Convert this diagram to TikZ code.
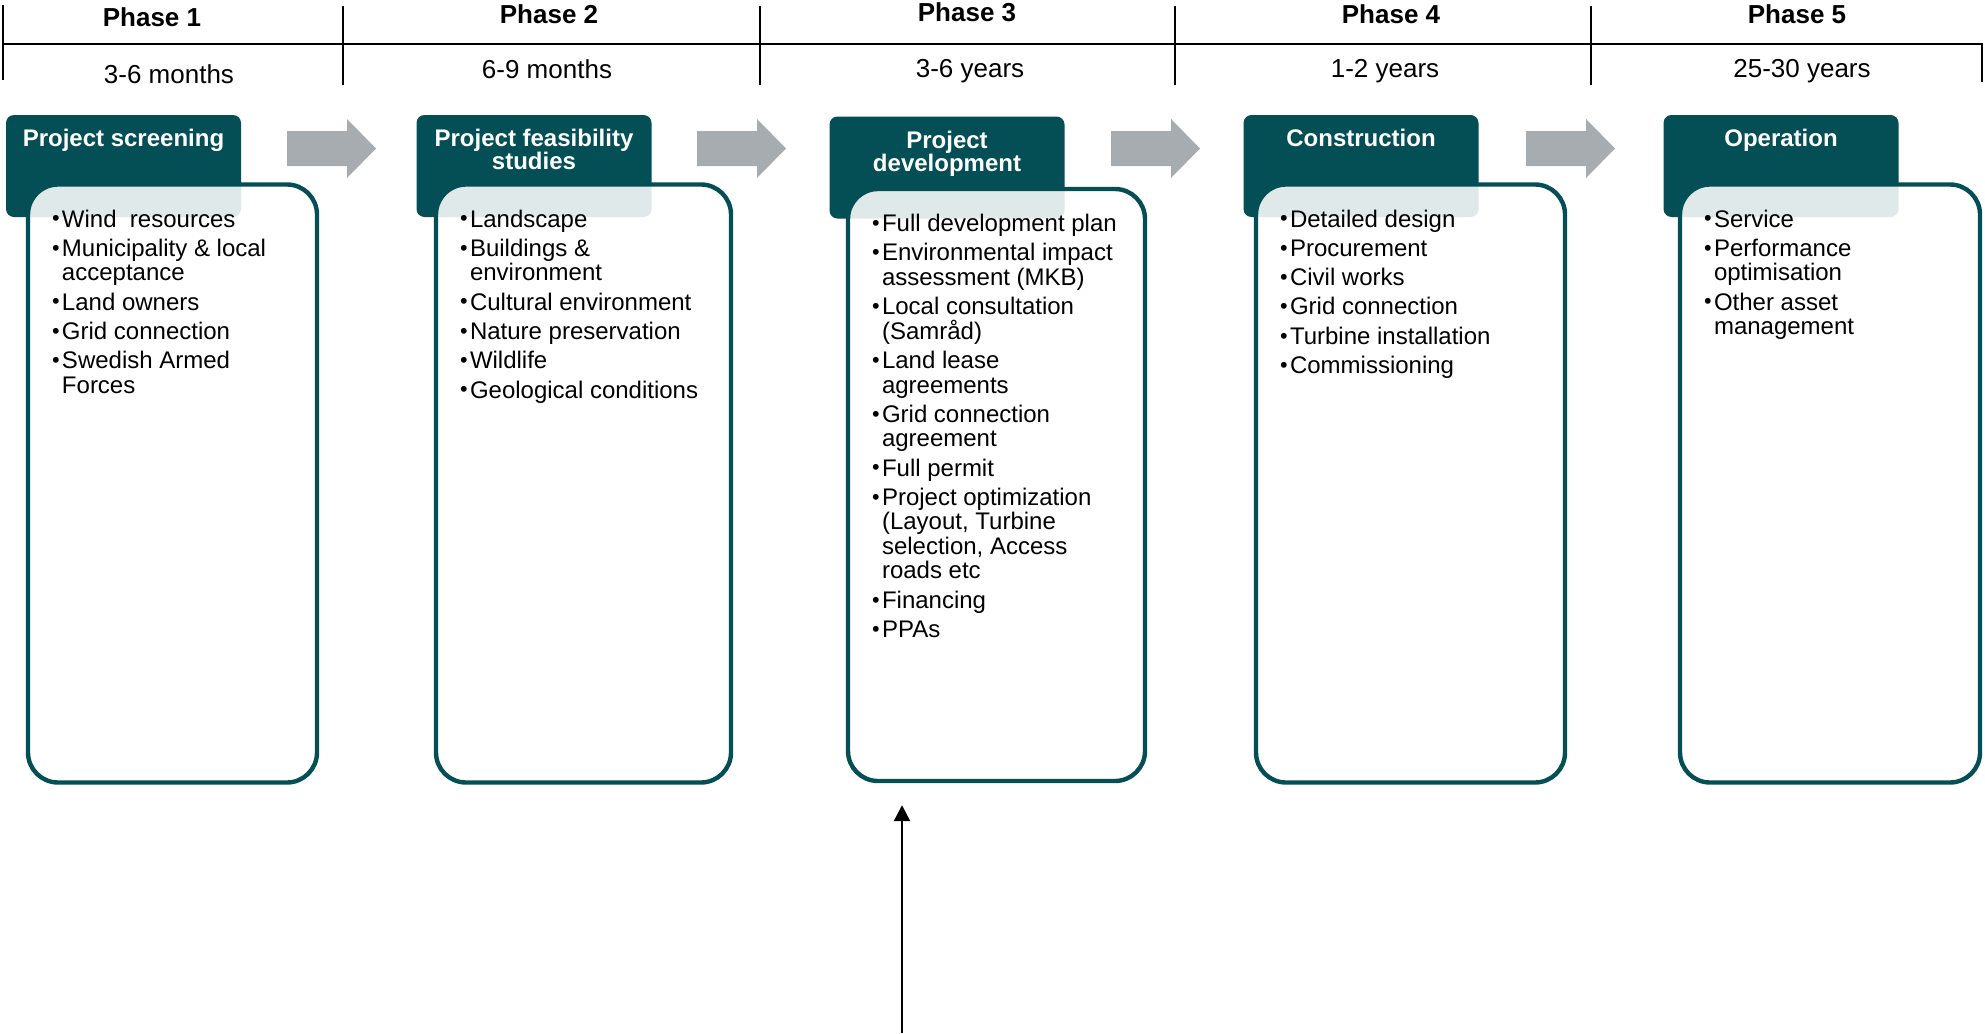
\documentclass[tikz,border=0pt]{standalone}
\usepackage{fontspec}
\setmainfont{Liberation Sans}
\usetikzlibrary{positioning,arrows.meta}

\definecolor{tealdark}{RGB}{4,78,86}
\definecolor{arrowgray}{RGB}{166,172,175}

\newlength\bulw
\setlength\bulw{5.6pt}
\newcommand{\bl}{\makebox[\bulw][r]{\raisebox{0.6pt}{\scalebox{0.9}{\textbullet}}\hspace{1.2pt}}}
\newcommand{\ind}{\hspace*{\bulw}}
\newcommand{\isep}{2.4pt}

\tikzset{every picture/.style={line width=1pt}}
\tikzset{
  phase/.style={anchor=base,inner sep=0pt,font=\fontsize{13}{15}\selectfont\bfseries},
  dur/.style={anchor=base,inner sep=0pt,font=\fontsize{13}{15}\selectfont},
  head/.style={fill=tealdark,rounded corners=4pt,minimum width=117.5pt,minimum height=51pt,inner sep=0pt,outer sep=0pt},
  headtxt/.style={text=white,align=center,inner sep=0pt,font=\fontsize{12}{11.75}\selectfont\bfseries},
  body/.style={draw=tealdark,line width=2.2pt,fill=white,fill opacity=0.88,rounded corners=15pt,minimum height=299pt,inner sep=0pt},
  bodytxt/.style={align=left,inner sep=0pt,font=\fontsize{12}{12.25}\selectfont},
}

\begin{document}
\begin{tikzpicture}[x=0.5pt,y=0.5pt,yscale=-1,xscale=1]
\useasboundingbox (0,0) rectangle (1985,1033);

%Straight Lines: phase rule
\draw (3,44) -- (1982,44);
\draw (3,5) -- (3,80);
\foreach \lx in {343,760,1175,1591}
  \draw (\lx,6) -- (\lx,85);
\draw (1982,43) -- (1982,82);

% Text Node
\node[phase] (p1) at (152,26) {Phase 1};
\node[phase] (p2) at (549,24) {Phase 2};
\node[phase] (p3) at (967,21.5) {Phase 3};
\node[phase] (p4) at (1391,23.5) {Phase 4};
\node[phase] (p5) at (1797,24) {Phase 5};
% Text Node
\node[dur] (d1) at (169,83) {3-6 months};
\node[dur] (d2) at (547,78) {6-9 months};
\node[dur] (d3) at (970,77) {3-6 years};
\node[dur] (d4) at (1385,77) {1-2 years};
\node[dur] (d5) at (1802,77) {25-30 years};

%Shape: Right Arrow
\foreach \ax in {287,697,1111,1526}
  \fill[arrowgray] (\ax,131) -- ++(60,0) -- ++(0,-12) -- ++(29,29.5) -- ++(-29,29.5) -- ++(0,-12) -- ++(-60,0) -- cycle;

%Shape: Rectangle (headers)
\node[head] (head1) at (123.5,166) {};
\node[head] (head2) at (534,166) {};
\node[head] (head3) at (947,167.5) {};
\node[head] (head4) at (1361,166) {};
\node[head] (head5) at (1781,166) {};

%Shape: Rectangle (bodies)
\node[body,minimum width=144.5pt] (body1) at (172.5,483.5) {};
\node[body,minimum width=147.5pt] (body2) at (583.5,483.5) {};
\node[body,minimum width=148.5pt,minimum height=296pt] (body3) at (996.5,485) {};
\node[body,minimum width=154.5pt] (body4) at (1410.5,483.5) {};
\node[body,minimum width=150pt] (body5) at (1830,483.5) {};

% Text Node
\node[headtxt,below=6.5pt of head1.north] (ht1) {Project screening};
\node[headtxt,below=6.5pt of head2.north] (ht2) {Project feasibility\\studies};
\node[headtxt,below=6.8pt of head3.north] (ht3) {Project\\development};
\node[headtxt,below=6.5pt of head4.north] (ht4) {Construction};
\node[headtxt,below=6.5pt of head5.north] (ht5) {Operation};

% Text Node
\node[bodytxt,below right=13.2pt and 12pt of body1.north west] (bt1) {%
\bl Wind~ resources\\[\isep]
\bl Municipality \& local\\
\ind acceptance\\[\isep]
\bl Land owners\\[\isep]
\bl Grid connection\\[\isep]
\bl Swedish Armed\\
\ind Forces};
% Text Node
\node[bodytxt,below right=13.2pt and 12pt of body2.north west] (bt2) {%
\bl Landscape\\[\isep]
\bl Buildings \&\\
\ind environment\\[\isep]
\bl Cultural environment\\[\isep]
\bl Nature preservation\\[\isep]
\bl Wildlife\\[\isep]
\bl Geological conditions};
% Text Node
\node[bodytxt,below right=13.2pt and 12pt of body3.north west] (bt3) {%
\bl Full development plan\\[\isep]
\bl Environmental impact\\
\ind assessment (MKB)\\[\isep]
\bl Local consultation\\
\ind (Samråd)\\[\isep]
\bl Land lease\\
\ind agreements\\[\isep]
\bl Grid connection\\
\ind agreement\\[\isep]
\bl Full permit\\[\isep]
\bl Project optimization\\
\ind (Layout, Turbine\\
\ind selection, Access\\
\ind roads etc\\[\isep]
\bl Financing\\[\isep]
\bl PPAs};
% Text Node
\node[bodytxt,below right=13.2pt and 12pt of body4.north west] (bt4) {%
\bl Detailed design\\[\isep]
\bl Procurement\\[\isep]
\bl Civil works\\[\isep]
\bl Grid connection\\[\isep]
\bl Turbine installation\\[\isep]
\bl Commissioning};
% Text Node
\node[bodytxt,below right=13.2pt and 12pt of body5.north west] (bt5) {%
\bl Service\\[\isep]
\bl Performance\\
\ind optimisation\\[\isep]
\bl Other asset\\
\ind management};

%Straight Lines: input arrow
\coordinate (src) at (902,1033);
\draw[-{Triangle[length=8pt,width=8pt]},line width=1.2pt,shorten >=11pt] (src) -- (src |- body3.south);

\end{tikzpicture}
\end{document}
